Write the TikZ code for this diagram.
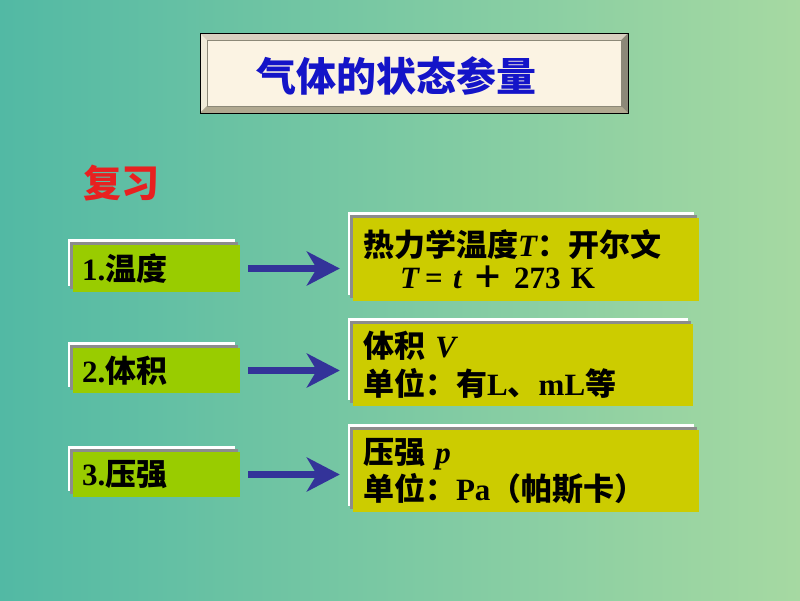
\documentclass[tikz,border=0pt]{standalone}
\usepackage{fontspec}
\setmainfont{Liberation Serif}
\newfontfamily\cjk{Noto Sans CJK SC}
\usetikzlibrary{arrows.meta,backgrounds,calc}
\definecolor{bgL}{HTML}{52B9A4}
\definecolor{bgR}{HTML}{A6D9A2}
\definecolor{tblue}{HTML}{1414C8}
\definecolor{rred}{HTML}{E82020}
\definecolor{arrblue}{HTML}{333399}
\definecolor{lgreen}{HTML}{99CC00}
\definecolor{ryellow}{HTML}{CCCC00}
\definecolor{frgray}{HTML}{8C8C8C}
\definecolor{cream}{HTML}{FBF3E3}
\definecolor{bvtop}{HTML}{D8D0C0}
\definecolor{bvleft}{HTML}{F0EAD8}
\definecolor{bvright}{HTML}{8C8878}
\definecolor{bvbot}{HTML}{B0A890}
\begin{document}
\begin{tikzpicture}[x=1pt,y=-1pt,
  lbox/.style={fill=lgreen, minimum height=47pt, text width=149pt, inner xsep=9pt, inner ysep=0pt, align=left,
    font=\fontsize{31}{34}\selectfont\bfseries},
  rbox/.style={fill=ryellow, inner xsep=10pt, inner ysep=0pt, align=left},
  arr/.style={draw=arrblue, line width=7pt, -{Stealth[length=33pt,width=34pt,inset=10pt]},
    shorten <=8pt, shorten >=13pt}]
\useasboundingbox (0,0) rectangle (800,600);
% title box
\fill[bvright] (200,33) rectangle (628,113);
\fill[bvtop] (200,33) -- (628,33) -- (621,40) -- (207,40) -- cycle;
\fill[bvleft] (200,33) -- (207,40) -- (207,106) -- (200,113) -- cycle;
\fill[bvbot] (200,113) -- (628,113) -- (621,106) -- (207,106) -- cycle;
\node[fill=cream, draw=bvright, line width=0.5pt, minimum width=414pt, minimum height=66pt, inner sep=0pt] (title) at (414,73) {};
\draw[black, line width=1pt] (200,33) rectangle (628,113);
\node[text=tblue, font=\fontsize{40}{44}\selectfont\cjk\bfseries] (ttext) at (396,76) {气体的状态参量};
% review
\node[text=rred, font=\fontsize{38}{42}\selectfont\cjk\bfseries] (review) at (121,183) {复习};
% left boxes
\node[lbox] (l1) at (156.5,268.5) {1.{\cjk 温度}};
\node[lbox, minimum height=45pt] (l2) at (156.5,370.5) {2.{\cjk 体积}};
\node[lbox, minimum height=45pt] (l3) at (156.5,474.5) {3.{\cjk 压强}};
% right boxes
\node[rbox, text width=326pt, minimum height=83pt, font=\fontsize{31}{32}\selectfont\bfseries] (r1) at (526,259.5)
  {{\cjk 热力学温度}\textit{T}{\cjk ：开尔文}\\\hspace*{37pt}\textit{T}\,=\ \textit{t}\ {\cjk ＋}\ 273 K};
\node[rbox, text width=320pt, minimum height=82pt, font=\fontsize{31}{38}\selectfont\bfseries] (r2) at (523,365)
  {{\cjk 体积} \textit{V}\\{\cjk 单位：有}L{\cjk 、}mL{\cjk 等}};
\node[rbox, text width=326pt, minimum height=82pt, font=\fontsize{31}{37}\selectfont\bfseries] (r3) at (526,471)
  {{\cjk 压强} \textit{p}\\{\cjk 单位：}Pa{\cjk （帕斯卡）}};
% arrows
\draw[arr] (l1.east) -- (l1.east -| r1.west);
\draw[arr] (l2.east) -- (l2.east -| r2.west);
\draw[arr] (l3.east) -- (l3.east -| r3.west);
% background and frames
\begin{scope}[on background layer]
  \shade[left color=bgL, right color=bgR] (0,0) rectangle (800,600);
  \foreach \n in {l1,l2,l3,r1,r2,r3} {
    \fill[white] ($(\n.north west)+(-5,-6)$) rectangle ($(\n.south east)+(-5,-6)$);
    \fill[frgray] ($(\n.north west)+(-2.5,-3)$) rectangle ($(\n.south east)+(-2.5,-3)$);
  }
\end{scope}
\end{tikzpicture}
\end{document}
